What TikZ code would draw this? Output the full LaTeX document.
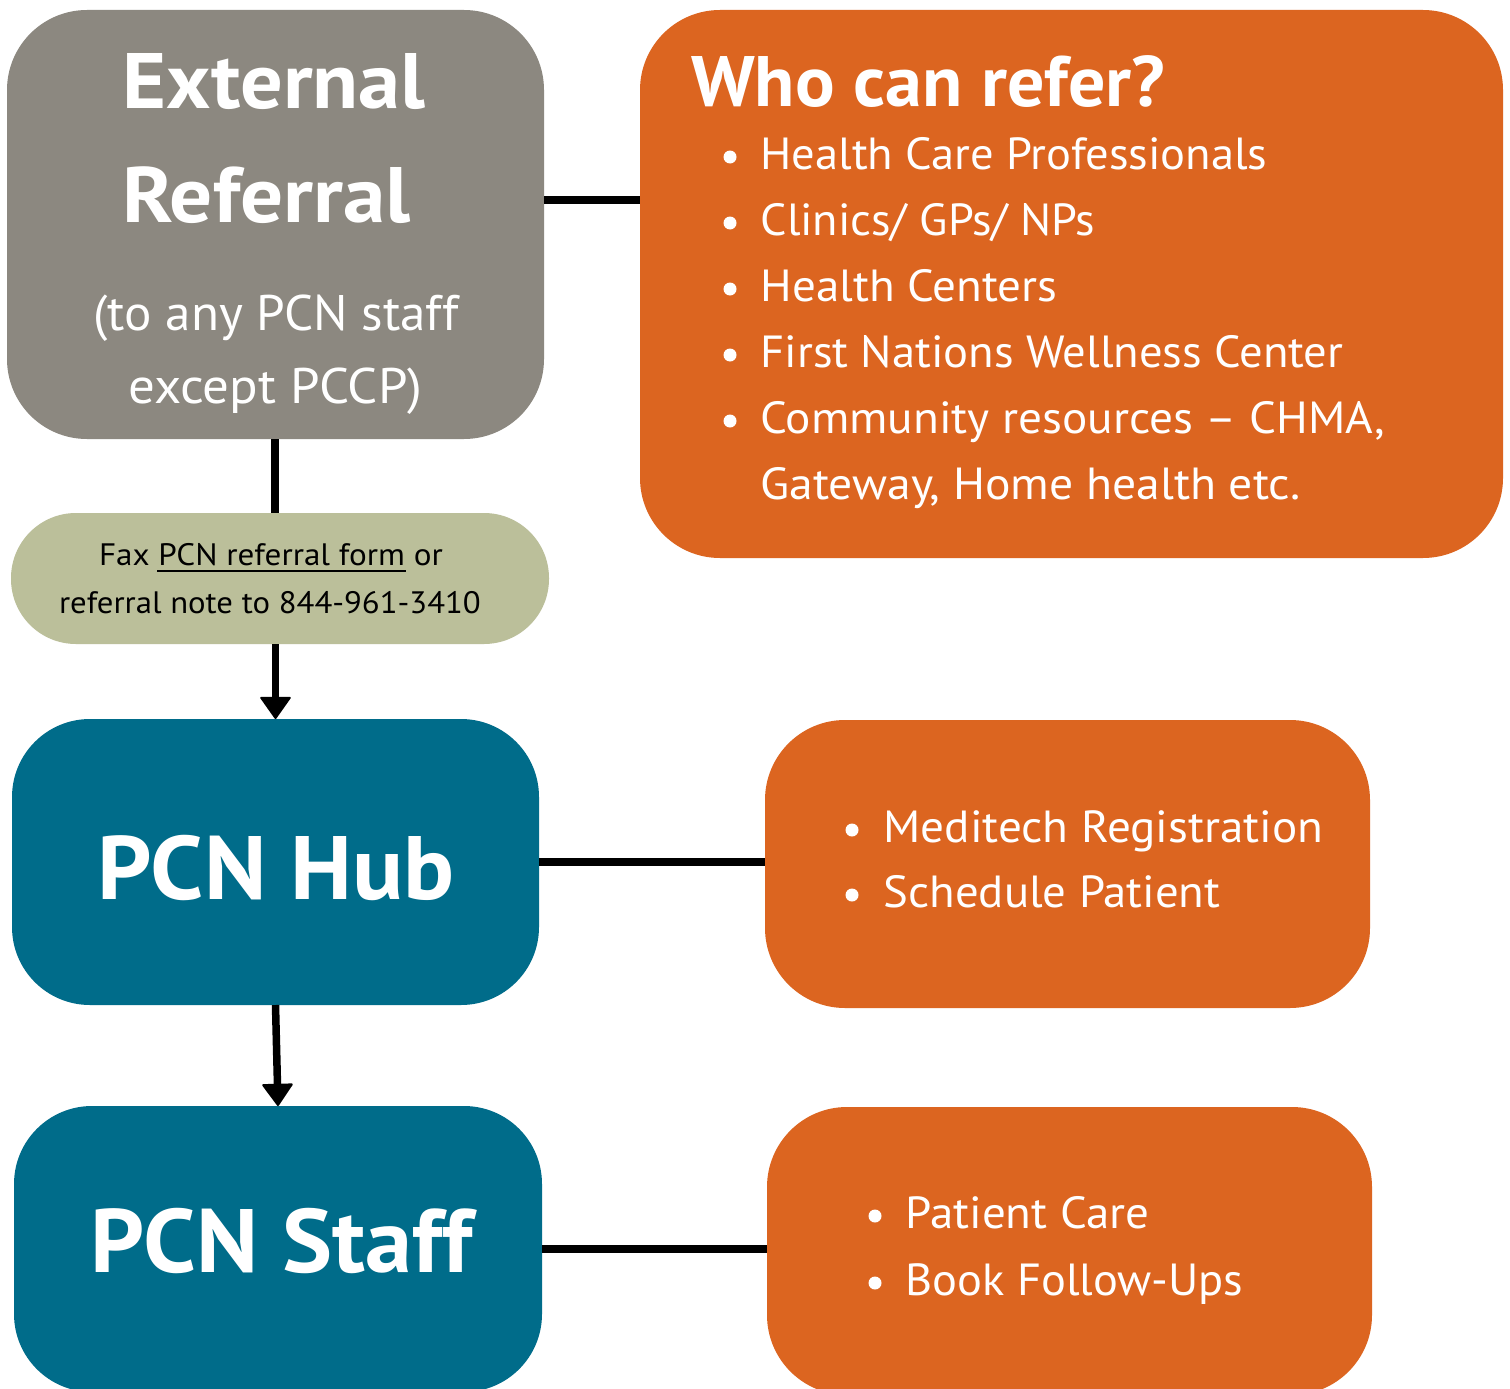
\documentclass[tikz,border=0pt]{standalone}
\usepackage{fontspec}
\setmainfont{PT Sans}
\usetikzlibrary{arrows.meta}
\definecolor{extgray}{RGB}{140,136,128}
\definecolor{orng}{RGB}{220,101,32}
\definecolor{olive}{RGB}{187,191,154}
\definecolor{teal}{RGB}{0,108,138}
\newcommand\fitt[3]{\resizebox{#1pt}{\height}{\fontsize{#2pt}{#2pt}\selectfont #3}}
\begin{document}
\begin{tikzpicture}[x=1pt,y=-1pt,
  box/.style={rectangle,draw=none,inner sep=0pt,outer sep=0pt},
  txt/.style={anchor=base west,inner sep=0pt,outer sep=0pt,text=white},
  dtxt/.style={anchor=base west,inner sep=0pt,outer sep=0pt,text=black},
  conn/.style={line width=7.5pt,draw=black},
  arr/.style={conn,-{Triangle[width=32pt,length=23pt,line width=2pt,round]}},
  bul/.style={fill=white,draw=none}]
\useasboundingbox (0,0) rectangle (1510,1389);
\fill[white] (0,0) rectangle (1510,1389);

% boxes
\node[box,fill=extgray,rounded corners=80pt,minimum width=537pt,minimum height=429pt] (ext) at (275.5,224.5) {};
\node[box,fill=orng,rounded corners=80pt,minimum width=863pt,minimum height=548pt] (who) at (1071.5,284) {};
\node[box,fill=olive,rounded corners=65pt,minimum width=538pt,minimum height=131pt] (fax) at (280,578.5) {};
\node[box,fill=teal,rounded corners=78pt,minimum width=527pt,minimum height=286pt] (hub) at (275.5,862) {};
\node[box,fill=orng,rounded corners=80pt,minimum width=605pt,minimum height=288pt] (tasks) at (1067.5,864) {};
\node[box,fill=teal,rounded corners=78pt,minimum width=528pt,minimum height=286pt] (staff) at (278,1249) {};
\node[box,fill=orng,rounded corners=80pt,minimum width=605pt,minimum height=288pt] (care) at (1069.5,1251) {};

% connectors
\coordinate (ylink) at (0,200);
\draw[conn] (ext.east |- ylink) -- (who.west |- ylink);
\draw[conn] (ext.south -| 275,0) -- (fax.north -| 275,0);
\draw[arr] (fax.south -| hub.north) -- (hub.north);
\draw[arr] (hub.south) -- (staff.north);
\draw[conn] (hub.east) -- (tasks.west |- hub.east);
\draw[conn] (staff.east) -- (care.west |- staff.east);

% External referral text
\node[txt] (t1) at (122.6,108) {\fitt{302.7}{78.6}{\bfseries External}};
\node[txt] (t2) at (122.6,222) {\fitt{287.7}{78.6}{\bfseries Referral}};
\node[txt] (t3) at (93.5,330) {\fitt{365}{50}{(to any PCN staff}};
\node[txt] (t4) at (128.5,403) {\fitt{294}{50}{except PCCP)}};

% Who can refer
\node[txt] (w0) at (691,106) {\fitt{474}{71.4}{\bfseries Who can refer?}};
\node[txt] (w1) at (760.6,169) {\fitt{506.7}{45}{Health Care Professionals}};
\node[txt] (w2) at (760.6,235) {\fitt{334.7}{45}{Clinics/ GPs/ NPs}};
\node[txt] (w3) at (760.6,301) {\fitt{296.7}{45}{Health Centers}};
\node[txt] (w4) at (760.6,367) {\fitt{582.7}{45}{First Nations Wellness Center}};
\node[txt] (w5) at (760.6,433) {\fitt{624.7}{45}{Community resources – CHMA,}};
\node[txt] (w6) at (760.6,499) {\fitt{539.7}{45}{Gateway, Home health etc.}};
\foreach \yy in {157,223,289,355,421} \fill[bul] (730,\yy) circle (6.5pt);

% Fax text
\node[dtxt] (f1) at (99,565.5) {\fitt{343.8}{31}{Fax PCN referral form or}};
\node[dtxt] (f2) at (59,613.5) {\fitt{421.8}{31}{referral note to 844-961-3410}};
\draw[line width=2pt] (157,571) -- (406,571);

% PCN Hub / Staff
\node[txt] (h1) at (97.3,899) {\fitt{357.4}{90}{\bfseries PCN Hub}};
\node[txt] (s1) at (90.3,1272) {\fitt{382.4}{90}{\bfseries PCN Staff}};

% tasks
\node[txt] (m1) at (883.6,842) {\fitt{439.7}{45}{Meditech Registration}};
\node[txt] (m2) at (883.6,907) {\fitt{336.7}{45}{Schedule Patient}};
\fill[bul] (852,830) circle (6.5pt);
\fill[bul] (852,895) circle (6.5pt);

\node[txt] (c1) at (905.6,1228) {\fitt{243.7}{45}{Patient Care}};
\node[txt] (c2) at (905.6,1295) {\fitt{337.7}{45}{Book Follow-Ups}};
\fill[bul] (875,1216) circle (6.5pt);
\fill[bul] (875,1283) circle (6.5pt);
\end{tikzpicture}
\end{document}
